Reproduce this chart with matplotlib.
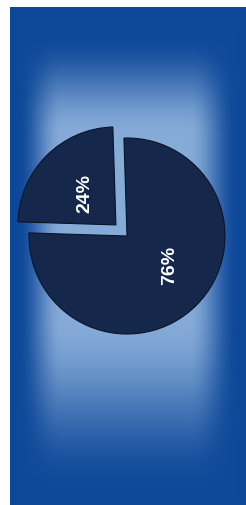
import numpy as np
import matplotlib
matplotlib.use("Agg")
import matplotlib.pyplot as plt
from matplotlib.colors import to_rgb

# data
categories = ["A", "B"]
values = [24, 76]
labels = ["24%", "76%"]

W, H = 246, 505
fig = plt.figure(figsize=(W / 100, H / 100), dpi=100)
fig.patch.set_facecolor("white")

# background gradient panel
bg = fig.add_axes([10 / W, 0, (W - 10) / W, (H - 7) / H])
bg.set_axis_off()
nx, ny = 236, 498
xs = np.linspace(0, 1, nx)
ys = np.linspace(0, 1, ny)

def ramp(t, a, b):
    s = np.clip((t - a) / (b - a), 0, 1)
    return s * s * (3 - 2 * s)

hx = ramp(xs, 0.03, 0.22) * (1 - ramp(xs, 0.76, 0.97))
hy = ramp(ys, 0.05, 0.26) * (1 - ramp(ys, 0.62, 0.98))
f = np.outer(hy, hx)
dark = np.array(to_rgb("#0e4899"))
light = np.array(to_rgb("#86abd8"))
img = dark[None, None, :] * (1 - f[..., None]) + light[None, None, :] * f[..., None]
bg.imshow(img, aspect="auto", extent=[0, 1, 0, 1], origin="upper")
bg.set_xlim(0, 1)
bg.set_ylim(0, 1)

# pie axes in pixel coordinates
ax = fig.add_axes([0, 0, 1, 1])
ax.set_axis_off()
cx, cy, r = 127, H - 236, 98
wedges, _, autotexts = ax.pie(
    values,
    explode=[0.16 * r, 0.0],
    startangle=91.8,
    counterclock=True,
    center=(cx, cy),
    radius=r,
    colors=["#15284c", "#15284c"],
    wedgeprops=dict(edgecolor="#0a1326", linewidth=0.8),
    autopct=lambda p: f"{p:.0f}%",
    pctdistance=0.45,
    textprops=dict(color="white", fontsize=14, fontweight="bold",
                   family="Liberation Sans", rotation=90,
                   ha="center", va="center"),
)
# nudge the big slice label toward where it sits in the reference
ang = np.deg2rad(-35)
autotexts[1].set_position((cx + 0.53 * r * np.cos(ang), cy + 0.53 * r * np.sin(ang)))
ax.set_xlim(0, W)
ax.set_ylim(0, H)
ax.set_aspect("auto")

fig.savefig("out.png", dpi=100)
